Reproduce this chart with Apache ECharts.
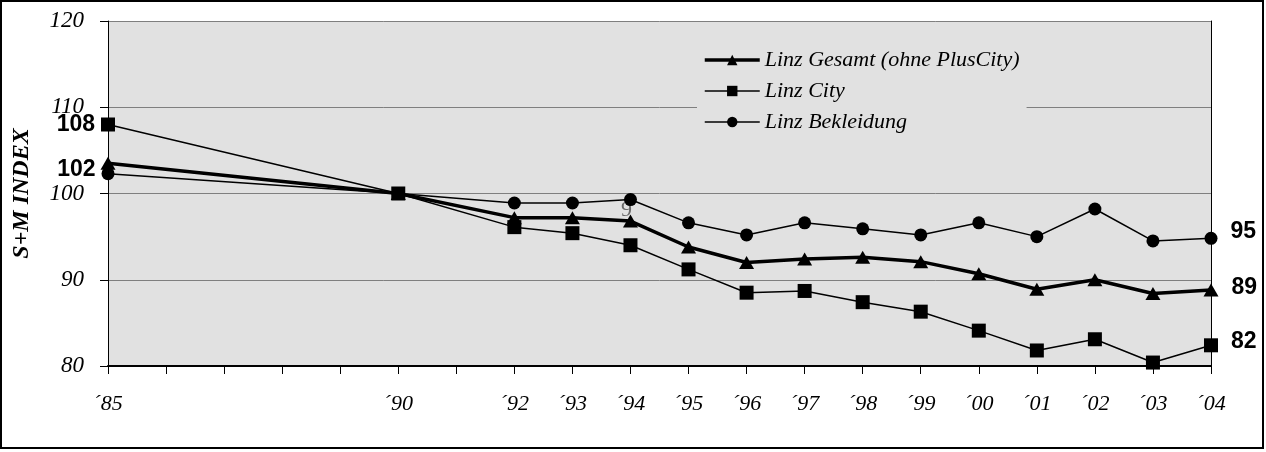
<!DOCTYPE html>
<html>
<head>
<meta charset="utf-8">
<script src="https://cdn.jsdelivr.net/npm/echarts@6/dist/echarts.min.js"></script>
<style>
  html, body { margin: 0; padding: 0; background: #ffffff; }
  #chart { width: 1266px; height: 452px; }
</style>
</head>
<body>
<div id="chart"></div>
<script>
// Survey years shown on the horizontal axis
const years = [1985, 1990, 1992, 1993, 1994, 1995, 1996, 1997, 1998, 1999, 2000, 2001, 2002, 2003, 2004];

// S+M index values (1990 = 100)
const gesamt     = [103.5, 100, 97.2, 97.2, 96.8, 93.8, 92.0, 92.4, 92.6, 92.1, 90.7, 88.9, 90.0, 88.4, 88.8];
const city       = [108.0, 100, 96.1, 95.4, 94.0, 91.2, 88.5, 88.7, 87.4, 86.3, 84.1, 81.8, 83.1, 80.4, 82.4];
const bekleidung = [102.3, 100, 98.9, 98.9, 99.3, 96.6, 95.2, 96.6, 95.9, 95.2, 96.6, 95.0, 98.2, 94.5, 94.8];

const seriesNames = ['Linz Gesamt (ohne PlusCity)', 'Linz City', 'Linz Bekleidung'];
const lineWidths = [3.5, 1.5, 1.5];
const yTicks = [80, 90, 100, 110, 120];

const serif = '"Liberation Serif", "Times New Roman", serif';
const sans = '"Liberation Sans", Arial, sans-serif';

const valueLabel = {
  show: true,
  fontFamily: sans,
  fontWeight: 'bold',
  fontSize: 23,
  color: '#000',
  formatter: p => String(Math.round(p.value[1]))
};

// Attach value labels to the first and/or last point of a series
function buildData(values, labelFirst, labelLast, firstOffset, lastOffset) {
  return values.map((v, i) => {
    const item = { value: [years[i], v] };
    if (i === 0 && labelFirst) {
      item.label = Object.assign({}, valueLabel, { position: 'left', distance: 6, offset: [0, firstOffset] });
    }
    if (i === values.length - 1 && labelLast) {
      item.label = Object.assign({}, valueLabel, { position: 'right', distance: 13, offset: [0, lastOffset] });
    }
    return item;
  });
}

const chart = echarts.init(document.getElementById('chart'), null, { renderer: 'canvas' });

chart.setOption({
  animation: false,
  backgroundColor: '#ffffff',
  grid: {
    left: 108, right: 55, top: 21, bottom: 86,
    show: true, backgroundColor: '#e1e1e1', borderWidth: 0
  },
  legend: {
    orient: 'vertical',
    left: 697, top: 43,
    padding: [6, 7, 6, 6],
    itemGap: 9,
    itemWidth: 55, itemHeight: 13,
    backgroundColor: '#e1e1e1',
    data: seriesNames.map((n, i) => ({ name: n, lineStyle: { width: lineWidths[i] } })),
    textStyle: { fontFamily: serif, fontStyle: 'italic', fontSize: 22, color: '#000' }
  },
  xAxis: {
    type: 'value',
    min: 1985, max: 2004, interval: 1,
    axisLine: { show: true, lineStyle: { color: '#000', width: 2 } },
    axisTick: { show: true, length: 8, lineStyle: { color: '#000', width: 1 } },
    axisLabel: {
      margin: 27,
      fontFamily: serif, fontStyle: 'italic', fontSize: 22, color: '#000',
      formatter: v => years.includes(v) ? '\u00B4' + String(v).slice(2) : ''
    },
    splitLine: { show: false }
  },
  yAxis: [{
    type: 'value',
    min: yTicks[0], max: yTicks[yTicks.length - 1], interval: 10,
    name: 'S+M INDEX',
    nameLocation: 'middle',
    nameRotate: 90,
    nameGap: 74,
    nameTextStyle: { fontFamily: serif, fontStyle: 'italic', fontWeight: 'bold', fontSize: 24, color: '#000' },
    axisLine: { show: true, lineStyle: { color: '#000', width: 1 } },
    axisTick: { show: true, length: 8, lineStyle: { color: '#000' } },
    axisLabel: { margin: 24, fontFamily: serif, fontStyle: 'italic', fontSize: 23, color: '#000' },
    splitLine: { show: true, lineStyle: { color: '#7f7f7f', width: 1 } }
  }, {
    type: 'value',
    position: 'right',
    min: yTicks[0], max: yTicks[yTicks.length - 1], interval: 10,
    axisLine: { show: true, lineStyle: { color: '#000', width: 1 } },
    axisTick: { show: false },
    axisLabel: { show: false },
    splitLine: { show: false }
  }],
  series: [{
    name: seriesNames[0],
    type: 'line',
    data: buildData(gesamt, false, true, 0, -2),
    symbol: 'triangle',
    symbolSize: [15, 13],
    lineStyle: { color: '#000', width: lineWidths[0] },
    itemStyle: { color: '#000' },
    z: 4
  }, {
    name: seriesNames[1],
    type: 'line',
    data: buildData(city, true, true, 0, -4),
    symbol: 'rect',
    symbolSize: 14,
    lineStyle: { color: '#000', width: lineWidths[1] },
    itemStyle: { color: '#000' },
    z: 3
  }, {
    name: seriesNames[2],
    type: 'line',
    data: buildData(bekleidung, true, true, -4, -7),
    symbol: 'circle',
    symbolSize: 13,
    lineStyle: { color: '#000', width: lineWidths[2] },
    itemStyle: { color: '#000' },
    z: 3
  }],
  graphic: [{
    type: 'text',
    left: 621, top: 199,
    z: 1,
    style: { text: '9', fontFamily: serif, fontSize: 22, fill: '#6a6a6a' }
  }, {
    type: 'rect',
    shape: { x: 1, y: 1, width: 1262, height: 447 },
    style: { fill: 'none', stroke: '#000', lineWidth: 2 },
    silent: true
  }]
});
</script>
</body>
</html>
